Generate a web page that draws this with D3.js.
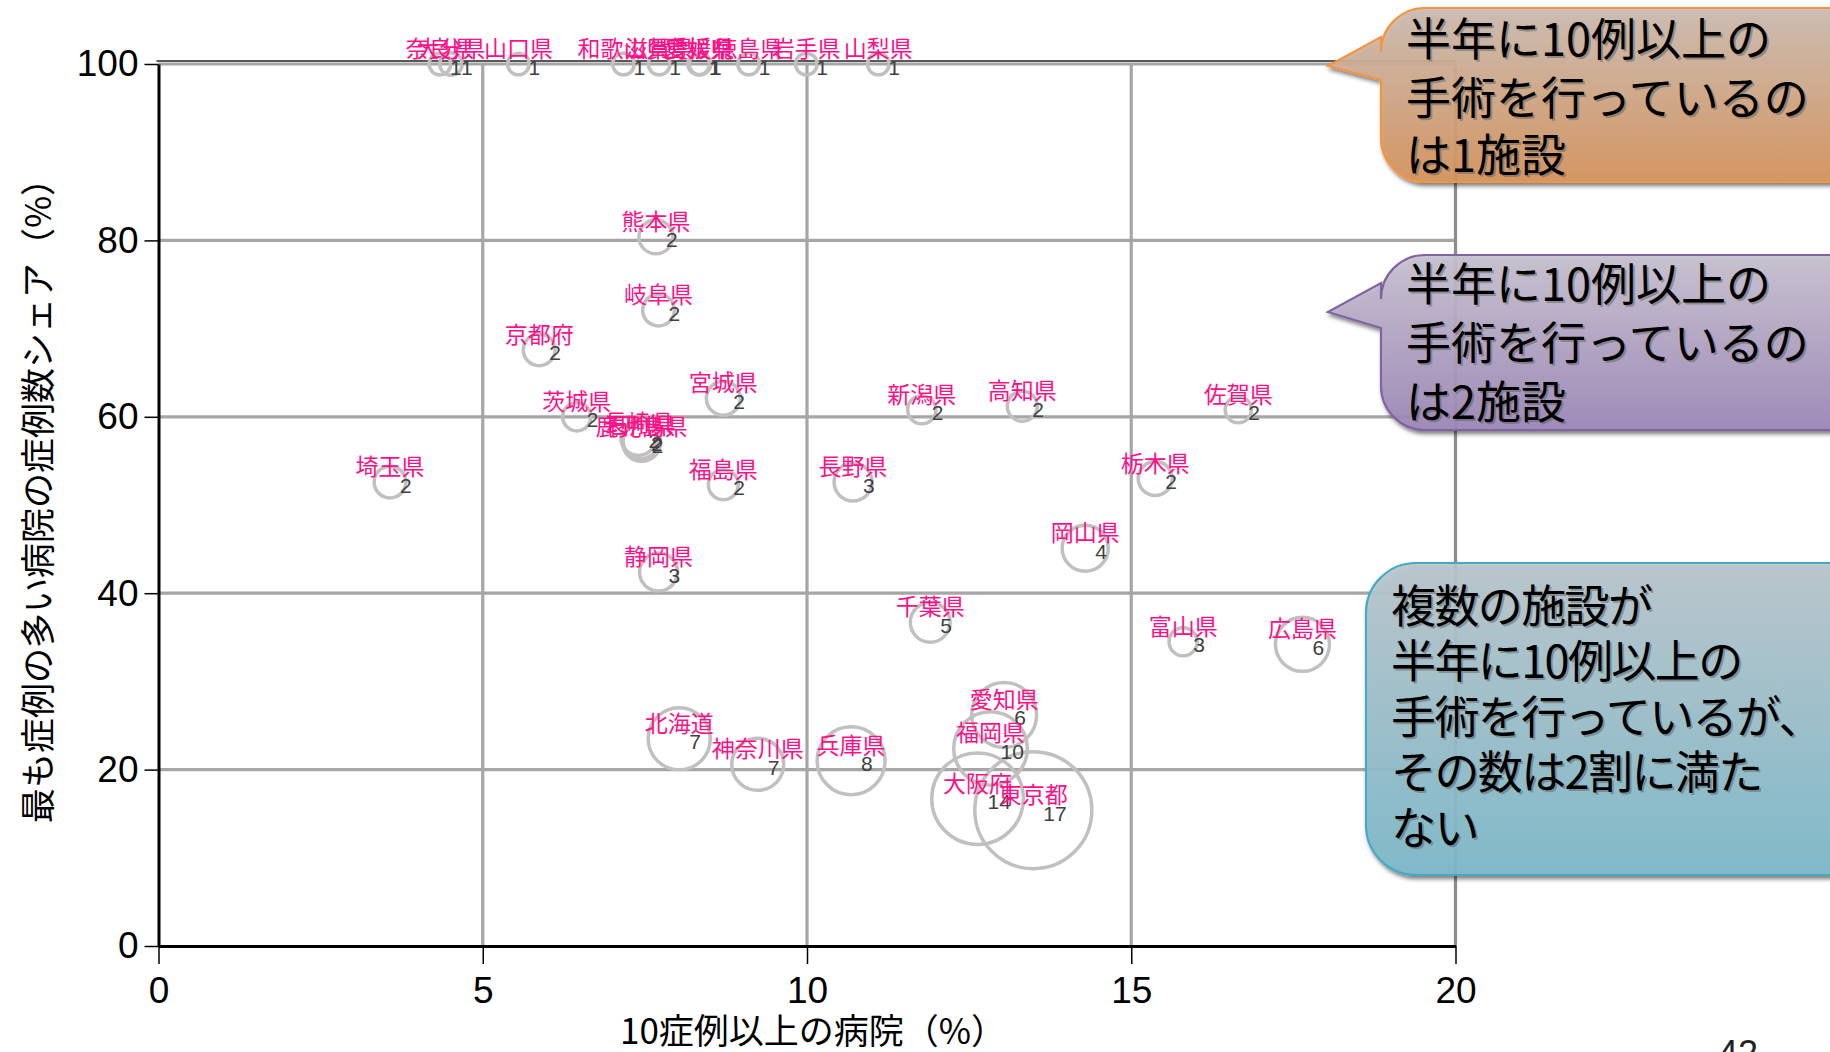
<!DOCTYPE html>
<html><head><meta charset="utf-8">
<script src="https://cdn.jsdelivr.net/npm/d3@7/dist/d3.min.js"></script>
<style>body{margin:0;background:#fff}svg{display:block}</style>
</head><body><svg id="chart" width="1830" height="1052"></svg>
<script>
// ---- data ----
const prefectures = ["奈良県","大分県","山口県","和歌山県","滋賀県","島根県","愛媛県","徳島県","岩手県","山梨県",
  "熊本県","岐阜県","京都府","宮城県","茨城県","長崎県","石川県","鹿児島県","埼玉県","福島県","長野県","静岡県",
  "新潟県","高知県","佐賀県","栃木県","岡山県","千葉県","富山県","広島県","北海道","神奈川県","兵庫県","愛知県",
  "福岡県","大阪府","東京都"];
const hospitalPct = [4.34,4.51,5.55,7.17,7.72,8.33,8.35,9.10,9.99,11.10,
  7.67,7.71,5.87,8.71,6.45,7.40,7.44,7.45,3.57,8.71,10.71,7.71,
  11.77,13.32,16.65,15.37,14.29,11.90,15.80,17.64,8.03,9.24,10.68,13.04,
  12.83,12.63,13.49];
const topShare = [100,100,100,100,100,100,100,100,100,100,
  80.4,72.1,67.6,62.1,60.0,57.6,57.3,57.1,52.6,52.3,52.6,42.4,
  60.8,61.2,60.8,53.0,45.1,36.7,34.5,34.2,23.5,20.6,21.0,26.2,
  22.4,16.7,15.4];
const facilityCount = [1,1,1,1,1,1,1,1,1,1,
  2,2,2,2,2,2,2,2,2,2,3,3,
  2,2,2,2,4,5,3,6,7,7,8,6,
  10,14,17];
const caseWeight = [13,14,13,13,13,13,13,13,13,13,
  32,28,28,32,22,34,36,40,28,25,40,40,
  22,25,19,32,59,44,22,81,107,75,128,117,
  150,233,380];
const xTicks = [0,5,10,15,20];
const yTicks = [0,20,40,60,80,100];
const xTitle = "10症例以上の病院（%）";
const yTitle = "最も症例の多い病院の症例数シェア（%）";
const callout1 = ["半年に10例以上の","手術を行っているの","は1施設"];
const callout2 = ["半年に10例以上の","手術を行っているの","は2施設"];
const callout3 = ["複数の施設が","半年に10例以上の","手術を行っているが、","その数は2割に満た","ない"];
const pageNumber = "42";

// ---- layout ----
const svg = d3.select("#chart");
const W = 1830, H = 1052;
const margin = {left: 158.5, right: W - 1455.5, top: 64, bottom: H - 946};
const x = d3.scaleLinear().domain([0,20]).range([margin.left, W - margin.right]);
const y = d3.scaleLinear().domain([0,100]).range([H - margin.bottom, margin.top]);
const r = d3.scaleSqrt().domain([0,380]).range([0,58.5]);

svg.append("rect").attr("width",W).attr("height",H).attr("fill","#fff");

const defs = svg.append("defs");
function grad(id, c0, c1){
  const g = defs.append("linearGradient").attr("id",id).attr("x1",0).attr("y1",0).attr("x2",0).attr("y2",1);
  g.append("stop").attr("offset","0%").attr("stop-color",c0);
  g.append("stop").attr("offset","100%").attr("stop-color",c1);
}
grad("gOrange","#cdbdb3","#d6945c");
grad("gPurple","#c8c2d1","#9d88b8");
grad("gBlue","#bac7cd","#7db9cb");
const sh = defs.append("filter").attr("id","shadow").attr("x","-10%").attr("y","-10%").attr("width","130%").attr("height","140%");
sh.append("feDropShadow").attr("dx",2).attr("dy",3).attr("stdDeviation",2).attr("flood-color","#000").attr("flood-opacity",0.55);

// grid
const grid = svg.append("g");
grid.selectAll("line.h").data(yTicks.filter(d=>d>0)).join("line")
  .attr("x1",x(0)).attr("x2",x(20)).attr("y1",d=>y(d)).attr("y2",d=>y(d))
  .attr("stroke","#a6a6a6").attr("stroke-width",3.2);
grid.selectAll("line.v").data(xTicks.filter(d=>d>0)).join("line")
  .attr("y1",y(0)).attr("y2",y(100)).attr("x1",d=>x(d)).attr("x2",d=>x(d))
  .attr("stroke",d=>d===20?"#8c8c8c":"#a6a6a6").attr("stroke-width",3.2);
svg.append("line").attr("x1",x(0)-2).attr("x2",x(20)+1).attr("y1",y(100)-3).attr("y2",y(100)-3)
  .attr("stroke","#222").attr("stroke-width",1.4);

// axes
const yAxis = svg.append("g").attr("transform",`translate(${x(0)},0)`)
  .call(d3.axisLeft(y).tickValues(yTicks).tickSize(14).tickSizeOuter(0).tickPadding(6));
yAxis.select(".domain").attr("stroke","#000").attr("stroke-width",3);
yAxis.selectAll(".tick line").attr("stroke","#000").attr("stroke-width",1.5);
yAxis.selectAll(".tick text").attr("font-family","'Liberation Sans', Arial, sans-serif").attr("font-size",37).attr("fill","#000");

const xAxis = svg.append("g").attr("transform",`translate(0,${y(0)})`)
  .call(d3.axisBottom(x).tickValues(xTicks).tickSize(18).tickSizeOuter(0).tickPadding(13));
xAxis.select(".domain").attr("stroke","#000").attr("stroke-width",3);
xAxis.selectAll(".tick line").attr("stroke","#000").attr("stroke-width",1.5);
xAxis.selectAll(".tick text").attr("font-family","'Liberation Sans', Arial, sans-serif").attr("font-size",37).attr("fill","#000");

svg.append("text").attr("x",813).attr("y",1028).attr("text-anchor","middle")
  .attr("dominant-baseline","central").attr("font-family","'Noto Sans CJK JP', sans-serif")
  .attr("font-size",35).attr("fill","#000").text(xTitle);
svg.append("text").attr("transform",`translate(35,492) rotate(-90)`).attr("text-anchor","middle")
  .attr("dominant-baseline","central").attr("font-family","'Noto Sans CJK JP', sans-serif")
  .attr("font-size",35).attr("fill","#000").text(yTitle);

// points
const pts = prefectures.map((p,i)=>({name:p, xv:hospitalPct[i], yv:topShare[i], n:facilityCount[i], w:caseWeight[i]}));
const pg = svg.append("g");
pg.selectAll("circle").data(pts).join("circle")
  .attr("cx",d=>x(d.xv)).attr("cy",d=>y(d.yv)).attr("r",d=>r(d.w))
  .attr("fill","none").attr("stroke","#c0c0c0").attr("stroke-width",3.5);
pg.selectAll("text.num").data(pts).join("text").attr("class","num")
  .attr("x",d=>x(d.xv)+10).attr("y",d=>y(d.yv)+3).attr("dominant-baseline","central")
  .attr("font-family","'Liberation Sans', Arial, sans-serif").attr("font-size",21).attr("fill","#404040")
  .text(d=>d.n);
pg.selectAll("text.name").data(pts).join("text").attr("class","name")
  .attr("x",d=>x(d.xv)).attr("y",d=>y(d.yv)-17).attr("text-anchor","middle").attr("dominant-baseline","central")
  .attr("font-family","'Noto Sans CJK JP', sans-serif").attr("font-size",23).attr("fill","#ff1088")
  .text(d=>d.name);

// callouts
function calloutPath(x0,y0,x1,y1,rad,tail){
  const p = d3.path();
  p.moveTo(x0+rad,y0);
  p.lineTo(x1-rad,y0);
  p.arcTo(x1,y0,x1,y0+rad,rad);
  p.lineTo(x1,y1-rad);
  p.arcTo(x1,y1,x1-rad,y1,rad);
  p.lineTo(x0+rad,y1);
  p.arcTo(x0,y1,x0,y1-rad,rad);
  if(tail){
    p.lineTo(x0,tail.b);
    p.lineTo(tail.tx,tail.ty);
    p.lineTo(x0,tail.t);
  }
  p.lineTo(x0,y0+rad);
  p.arcTo(x0,y0,x0+rad,y0,rad);
  p.closePath();
  return p.toString();
}
function callout(box, fill, stroke, lines, tx, baselines, fs, ls){
  const g = svg.append("g");
  g.append("path").attr("d",calloutPath(box.x0,box.y0,box.x1,box.y1,box.r,box.tail))
    .attr("fill",`url(#${fill})`).attr("fill-opacity",0.9).attr("stroke",stroke).attr("stroke-width",2.2)
    .attr("filter","url(#shadow)");
  lines.forEach((t,i)=>{
    g.append("text").attr("x",tx+2).attr("y",baselines[i]+2).attr("font-family","'Noto Sans CJK JP', sans-serif")
      .attr("font-size",fs).attr("letter-spacing",ls).attr("fill","#555").attr("fill-opacity",0.45).text(t);
    g.append("text").attr("x",tx).attr("y",baselines[i]).attr("font-family","'Noto Sans CJK JP', sans-serif")
      .attr("font-size",fs).attr("letter-spacing",ls).attr("fill","#000").text(t);
  });
}
callout({x0:1381,y0:8,x1:1880,y1:182,r:44,tail:{t:37,b:80,tx:1328,ty:66}},"gOrange","#f39443",callout1,1406,[56,115,172],45,0);
callout({x0:1381,y0:255,x1:1880,y1:430,r:44,tail:{t:283,b:328,tx:1328,ty:312}},"gPurple","#8064a2",callout2,1406,[301,360,419],45,0);
callout({x0:1366,y0:563,x1:1880,y1:875,r:50,tail:null},"gBlue","#46aac5",callout3,1391,[623,678,734,789,845],45,-1.6);

// page number
svg.append("text").attr("x",1738).attr("y",1066).attr("text-anchor","middle")
  .attr("font-family","'Liberation Sans', Arial, sans-serif").attr("font-size",36).attr("fill","#222").text(pageNumber);
</script></body></html>
